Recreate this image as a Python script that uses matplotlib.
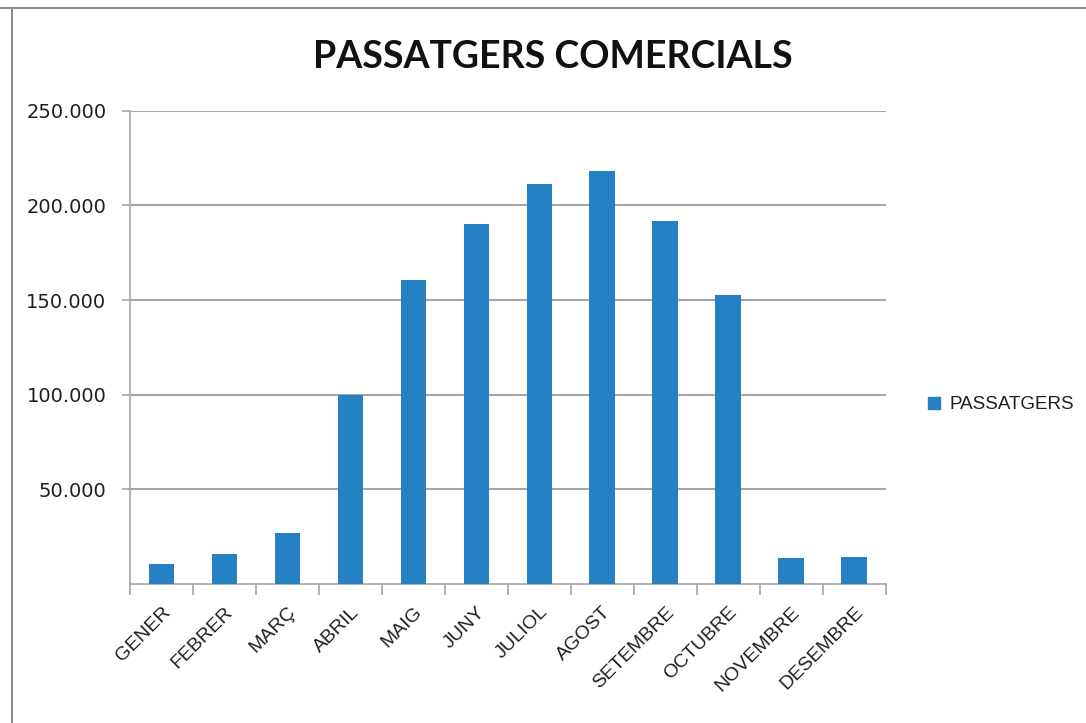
import matplotlib.pyplot as plt
from matplotlib.lines import Line2D
from matplotlib.ticker import FuncFormatter, FixedLocator

months = ["GENER", "FEBRER", "MARÇ", "ABRIL", "MAIG", "JUNY", "JULIOL",
          "AGOST", "SETEMBRE", "OCTUBRE", "NOVEMBRE", "DESEMBRE"]
passatgers = [10600, 15700, 27100, 99700, 160500, 189900, 211400,
              218100, 191900, 152900, 13600, 14600]
y_ticks = [50000, 100000, 150000, 200000, 250000]

BLUE = "#2581c4"
GRID = "#a6a6a6"
TXT = "#1f1f1f"

fig = plt.figure(figsize=(10.86, 7.23), dpi=100)
ax = fig.add_axes([0.1197, 0.192, 0.696, 0.655])

x = list(range(len(months)))
ax.bar(x, passatgers, width=0.41, color=BLUE, zorder=3, label="PASSATGERS")

ax.set_xlim(-0.5, len(months) - 0.5)
ax.set_ylim(0, 250000)
ax.set_yticks(y_ticks)
ax.yaxis.set_major_formatter(FuncFormatter(lambda v, p: f"{int(v):,}".replace(",", ".")))
ax.grid(axis="y", color=GRID, linewidth=1.5, zorder=0)

# category labels in the middle, tick marks between categories (Excel style)
ax.set_xticks(x)
ax.set_xticklabels(months, rotation=45, ha="right", rotation_mode="anchor",
                   fontsize=14, family="Liberation Sans", color=TXT)
ax.tick_params(axis="x", which="major", length=0, pad=14)
ax.xaxis.set_minor_locator(FixedLocator([i - 0.5 for i in range(len(months) + 1)]))
ax.tick_params(axis="x", which="minor", length=8, color=GRID, width=1.2)
ax.tick_params(axis="y", length=6, color=GRID, width=1.2, labelsize=14,
               labelcolor=TXT, pad=11)
for lbl in ax.get_yticklabels():
    lbl.set_family("DejaVu Sans")

for side in ["top", "right"]:
    ax.spines[side].set_visible(False)
for side in ["left", "bottom"]:
    ax.spines[side].set_color(GRID)
    ax.spines[side].set_linewidth(1.2)

fig.text(0.509, 0.921, "PASSATGERS COMERCIALS", ha="center", va="center",
         fontsize=27, fontweight="bold", family="Lato", color="#111111")

handle = Line2D([], [], marker="s", linestyle="none", markersize=9,
                markerfacecolor=BLUE, markeredgecolor=BLUE)
fig.legend([handle], ["PASSATGERS"], loc="center left",
           bbox_to_anchor=(0.836, 0.44), frameon=False,
           prop={"family": "Liberation Sans", "size": 13.5},
           handletextpad=0.3, handlelength=1.0, labelcolor=TXT)

# thin frame lines of the screenshot
fig.add_artist(Line2D([0, 1], [0.989, 0.989], color="#8c8c8c", linewidth=1.5))
fig.add_artist(Line2D([0.011, 0.011], [0, 0.989], color="#8c8c8c", linewidth=1.5))

fig.savefig("out.png", dpi=100)
